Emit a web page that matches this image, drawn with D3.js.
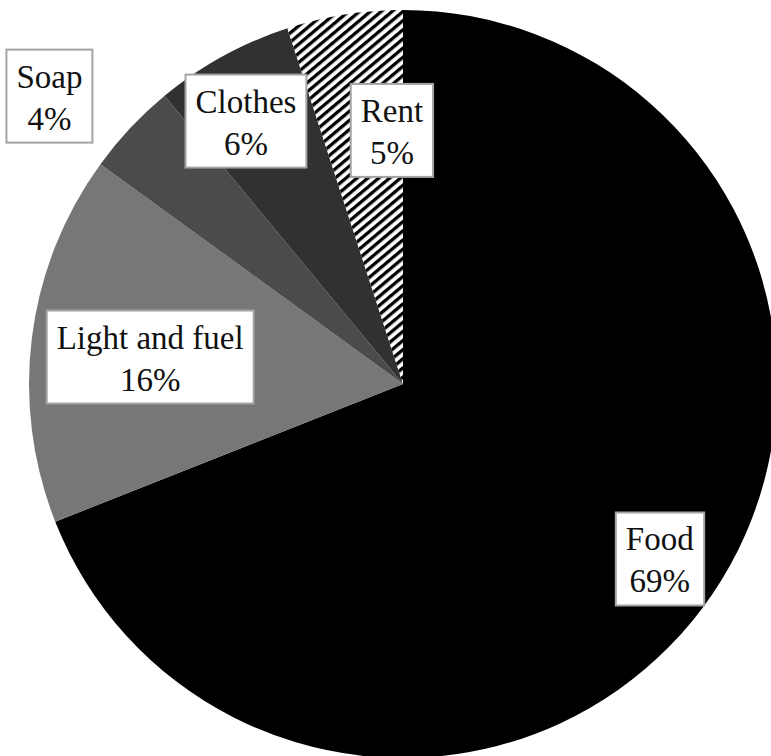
<!DOCTYPE html>
<html>
<head>
<meta charset="utf-8">
<script src="https://cdn.jsdelivr.net/npm/d3@7"></script>
<style>
    body { margin: 0; background: #fff; }
    #chart { width: 771px; height: 756px; }
</style>
</head>
<body>
<div id="chart"></div>
<script>
const categories = ['Food', 'Light and fuel', 'Soap', 'Clothes', 'Rent'];
const shares = [69, 16, 4, 6, 5];
const sliceColors = ['#000000', '#777777', '#4b4b4b', '#313131', 'url(#hatch)'];
// label placement: fraction of radius and angle nudge (degrees) off the slice middle
const labelRadius = [0.83, 0.68, 1.22, 0.82, 0.68];
const labelShift = [0, -1, -4, -2, 6.5];

function createPieChart() {
    const container = document.getElementById('chart');
    container.innerHTML = '';

    const width = 771;
    const height = 756;
    const cx = 403;
    const cy = 384;
    const radius = 374;

    const svg = d3.select(container)
        .append('svg')
        .attr('width', width)
        .attr('height', height);

    const defs = svg.append('defs');
    const hatch = defs.append('pattern')
        .attr('id', 'hatch')
        .attr('patternUnits', 'userSpaceOnUse')
        .attr('width', 7)
        .attr('height', 7)
        .attr('patternTransform', 'rotate(50)');
    hatch.append('rect')
        .attr('width', 7)
        .attr('height', 7)
        .attr('fill', '#fff');
    hatch.append('rect')
        .attr('width', 3.3)
        .attr('height', 7)
        .attr('fill', '#000');

    const data = categories.map((c, i) => ({ name: c, value: shares[i], i }));

    const pie = d3.pie()
        .value(d => d.value)
        .sort(null);

    const arc = d3.arc()
        .innerRadius(0)
        .outerRadius(radius);

    const g = svg.append('g')
        .attr('transform', `translate(${cx},${cy})`);

    const arcs = pie(data);

    g.selectAll('.slice')
        .data(arcs)
        .enter()
        .append('path')
        .attr('class', 'slice')
        .attr('d', arc)
        .attr('fill', d => sliceColors[d.data.i]);

    // Labels in white boxes
    const labels = g.selectAll('.label')
        .data(arcs)
        .enter()
        .append('g')
        .attr('class', 'label')
        .attr('transform', d => {
            const a = (d.startAngle + d.endAngle) / 2 + labelShift[d.data.i] * Math.PI / 180;
            const r = radius * labelRadius[d.data.i];
            return `translate(${r * Math.sin(a)},${-r * Math.cos(a)})`;
        });

    labels.each(function (d) {
        const lg = d3.select(this);
        const box = lg.append('rect')
            .attr('fill', '#fff')
            .attr('stroke', '#a3a3a3')
            .attr('stroke-width', 2);
        const txt = lg.append('text')
            .attr('text-anchor', 'middle')
            .style('font-family', '"Liberation Serif", "DejaVu Serif", serif')
            .style('font-size', '33px')
            .style('fill', '#111');
        txt.append('tspan')
            .attr('x', 0)
            .attr('y', -8)
            .text(d.data.name);
        txt.append('tspan')
            .attr('x', 0)
            .attr('y', 34)
            .text(d.data.value + '%');
        const bb = txt.node().getBBox();
        const padX = 10;
        box.attr('x', bb.x - padX)
            .attr('y', -46)
            .attr('width', bb.width + padX * 2)
            .attr('height', 93);
    });
}

createPieChart();
</script>
</body>
</html>
